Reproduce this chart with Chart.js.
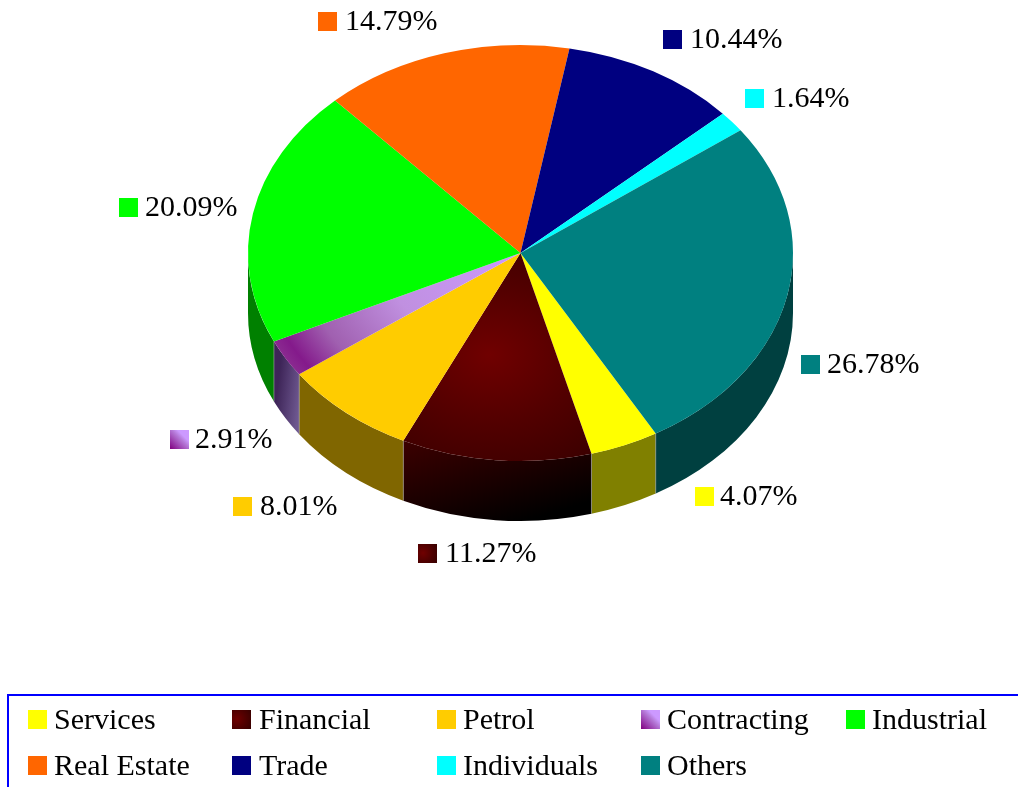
<!DOCTYPE html>
<html>
<head>
<meta charset="utf-8">
<style>html,body{margin:0;padding:0;background:#fff;overflow:hidden}canvas{display:block}</style>
<script src="https://cdn.jsdelivr.net/npm/chart.js@4"></script>
</head>
<body>
<canvas id="c" width="1018" height="787"></canvas>
<script>
const categories = ["Services","Financial","Petrol","Contracting","Industrial","Real Estate","Trade","Individuals","Others"];
const shares = [4.07,11.27,8.01,2.91,20.09,14.79,10.44,1.64,26.78];
const sliceColors = ["#ffff00","#4c0000","#ffcc00","#cc99ff","#00ff00","#ff6600","#000080","#00ffff","#008080"];
const wallColors = ["#808000","#240000","#806600","#5a4080","#008000","#803300","#000040","#008080","#004040"];
// swatch offset from the rim midpoint of each slice, and swatch-to-text gap
const labelNudges = [[70.6,41.65],[-77.8,84.1],[-113.1,84.6],[-115.4,71.8],[-134.2,-15.1],[-126.2,-41.25],[9.9,-41.5],[13.25,-32.7],[14.25,58.1]];
const labelGaps = [25,27,27,25,26,27,27,27,26];
const legendColumns = 5;

const FIN = 1, CON = 3;
const squash = 208/272.5, pieCenterY = 253, pieDepth = 60;
const font = '30px "Liberation Serif"';

function finTop(ctx, x, y, r){
  const g = ctx.createRadialGradient(x, y, 0, x, y, r);
  g.addColorStop(0, '#700000'); g.addColorStop(0.55, '#520000'); g.addColorStop(1, '#3c0000');
  return g;
}
function conTop(ctx, x, y, r){
  const g = ctx.createRadialGradient(x, y, 0, x, y, r);
  g.addColorStop(0, '#cc99ff'); g.addColorStop(0.5, '#c090e0'); g.addColorStop(0.8, '#a060b0');
  g.addColorStop(0.95, '#841a8b'); g.addColorStop(1, '#8a2a90');
  return g;
}
function sliceFill(c){
  const i = c.dataIndex, ch = c.chart, a = ch.chartArea;
  if (!a) return sliceColors[i];
  const x = (a.left+a.right)/2, y = (a.top+a.bottom)/2, r = Math.min(a.width,a.height)/2;
  if (i === FIN) return finTop(ch.ctx, x-31, y+133, 165);
  if (i === CON) return conTop(ch.ctx, x, y, r);
  return sliceColors[i];
}
function swatch(ctx, i, x, y){
  const s = 19;
  let f = sliceColors[i];
  if (i === FIN) f = finTop(ctx, x+5, y+9, 15);
  if (i === CON){
    f = ctx.createLinearGradient(x, y+s, x+s, y);
    f.addColorStop(0,'#800080'); f.addColorStop(0.55,'#b57ad8'); f.addColorStop(0.7,'#cc99ff'); f.addColorStop(1,'#cc99ff');
  }
  ctx.fillStyle = f;
  ctx.fillRect(x, y, s, s);
}

const pie3d = {
  id: 'pie3d',
  beforeDatasetsDraw(chart){
    const ctx = chart.ctx, arcs = chart.getDatasetMeta(0).data;
    const cx = arcs[0].x, R = arcs[0].outerRadius, ry = R*squash, TAU = Math.PI*2;
    const seams = [];
    const pt = (a,d) => [cx+R*Math.cos(a), pieCenterY+ry*Math.sin(a)+d];
    arcs.forEach((arc,i) => {
      let s = arc.startAngle % TAU; if (s<0) s += TAU;
      const len = arc.endAngle-arc.startAngle;
      [[s,s+len],[s-TAU,s+len-TAU]].forEach(([u,v]) => {
        const a0 = Math.max(u,0), a1 = Math.min(v,Math.PI);
        if (a1 <= a0) return;
        ctx.beginPath();
        ctx.ellipse(cx,pieCenterY,R,ry,0,a0,a1);
        ctx.ellipse(cx,pieCenterY+pieDepth,R,ry,0,a1,a0,true);
        ctx.closePath();
        let f = wallColors[i];
        const p0 = pt(a0,0), p1 = pt(a1,0);
        if (i === FIN){
          f = ctx.createLinearGradient(p1[0],p1[1],p1[0]+32,p1[1]+107);
          f.addColorStop(0,'#3c0000'); f.addColorStop(1,'#000000');
        }
        if (i === CON){
          f = ctx.createLinearGradient(p1[0]+2,p1[1]+60,p0[0],p0[1]+30);
          f.addColorStop(0,'#3e2558'); f.addColorStop(1,'#6e5890');
        }
        ctx.fillStyle = f; ctx.fill();
        if (a0 > 0) seams.push(a0);
      });
    });
    ctx.strokeStyle = 'rgba(170,170,170,0.55)'; ctx.lineWidth = 1;
    seams.forEach(a => {
      const p = pt(a,0);
      ctx.beginPath(); ctx.moveTo(p[0],p[1]); ctx.lineTo(p[0],p[1]+pieDepth); ctx.stroke();
    });
    ctx.save();
    const cy = arcs[0].y;
    ctx.translate(cx,pieCenterY); ctx.scale(1,squash); ctx.translate(-cx,-cy);
  },
  afterDatasetsDraw(chart){
    const ctx = chart.ctx, arcs = chart.getDatasetMeta(0).data;
    ctx.restore();
    const cx = arcs[0].x, R = arcs[0].outerRadius, ry = R*squash;
    ctx.font = font; ctx.textBaseline = 'alphabetic'; ctx.textAlign = 'left';
    arcs.forEach((arc,i) => {
      const m = (arc.startAngle+arc.endAngle)/2;
      const x = cx+R*Math.cos(m)+labelNudges[i][0], y = pieCenterY+ry*Math.sin(m)+labelNudges[i][1];
      swatch(ctx,i,Math.round(x),Math.round(y));
      ctx.fillStyle = '#000';
      ctx.fillText(shares[i].toFixed(2)+'%',Math.round(x)+labelGaps[i],Math.round(y)+18);
    });
    // legend
    ctx.strokeStyle = '#0000ff'; ctx.lineWidth = 2;
    ctx.strokeRect(8,695,1040,130);
    categories.forEach((name,i) => {
      const col = i%legendColumns, row = Math.floor(i/legendColumns);
      const x = 28+Math.round(col*204.4), y = 710+row*46;
      swatch(ctx,i,x,y);
      ctx.fillStyle = '#000';
      ctx.fillText(name,Math.round(54.4+col*204.3),y+19);
    });
  }
};

new Chart(document.getElementById('c'),{
  type:'pie',
  data:{labels:categories,datasets:[{data:shares,backgroundColor:sliceFill,borderWidth:0}]},
  options:{
    responsive:false,animation:false,rotation:150.25,
    layout:{padding:{left:248,right:225,top:0,bottom:242}},
    plugins:{legend:{display:false},tooltip:{enabled:false},title:{display:false}}
  },
  plugins:[pie3d]
});
</script>
</body>
</html>
